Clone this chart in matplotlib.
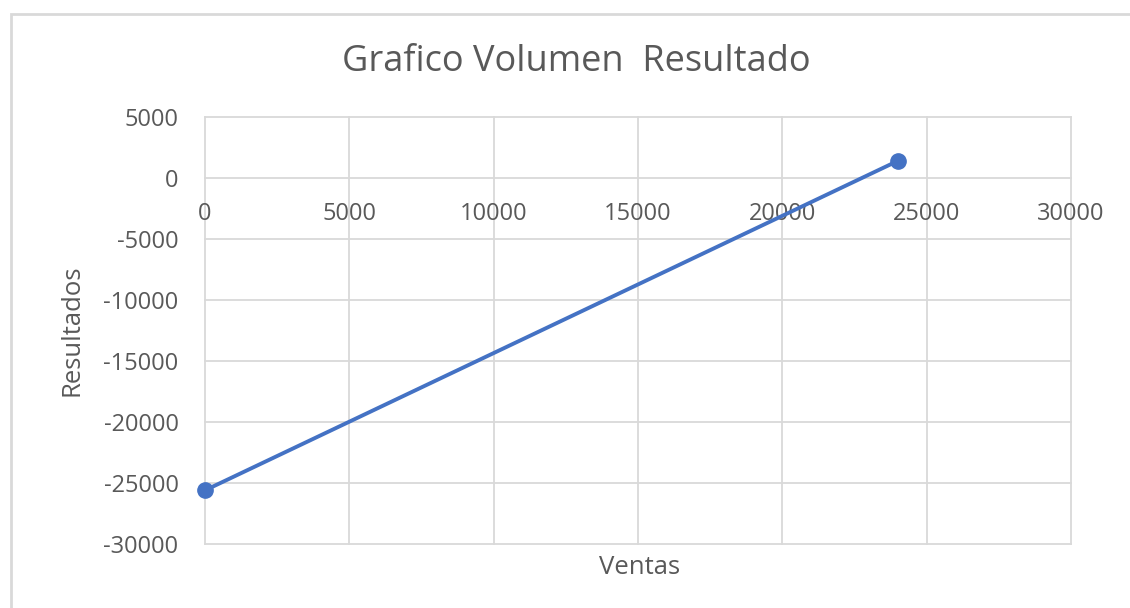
import matplotlib as mpl
import matplotlib.pyplot as plt
from matplotlib.patches import Rectangle

mpl.use("agg")

# data
ventas = [0, 24000]
resultados = [-25600, 1400]
x_ticks = [0, 5000, 10000, 15000, 20000, 25000, 30000]
y_ticks = [5000, 0, -5000, -10000, -15000, -20000, -25000, -30000]

title = "Grafico Volumen  Resultado"
x_label = "Ventas"
y_label = "Resultados"

text_color = "#595959"
grid_color = "#d9d9d9"
line_color = "#4472C4"

plt.rcParams["font.family"] = ["Open Sans", "DejaVu Sans"]

fig = plt.figure(figsize=(11.3, 6.08), dpi=100)
W, H = 1130, 608
ax = fig.add_axes([205 / W, 1 - 544 / H, (1071 - 205) / W, (544 - 117) / H])

# chart frame (only left and top edges are visible in the screenshot)
fig.patches.append(
    Rectangle((11 / W, -0.2), 1.5, 1.2 - 14 / H, transform=fig.transFigure,
              fill=False, edgecolor="#d9d9d9", linewidth=2.0)
)

ax.plot(ventas, resultados, color=line_color, linewidth=2.8,
        marker="o", markersize=11, zorder=3, clip_on=False)

ax.set_xlim(0, 30000)
ax.set_ylim(-30000, 5000)
ax.set_xticks(x_ticks)
ax.set_yticks(y_ticks)
ax.set_xticklabels([str(v) for v in x_ticks])
ax.set_yticklabels([str(v) for v in y_ticks])

for s in ax.spines.values():
    s.set_visible(False)
ax.spines["bottom"].set_position(("data", 0))

ax.tick_params(axis="both", length=0, labelsize=17, labelcolor=text_color)
ax.tick_params(axis="x", pad=17)
ax.tick_params(axis="y", pad=19)

ax.grid(True, color=grid_color, linewidth=1.3)
ax.set_axisbelow(True)
for gl in ax.get_xgridlines() + ax.get_ygridlines():
    gl.set_clip_on(False)

fig.text(576 / W, 1 - 62 / H, title, ha="center", va="center",
         fontsize=26, color=text_color)
fig.text(640 / W, 1 - 567 / H, x_label, ha="center", va="center",
         fontsize=18.5, color=text_color)
fig.text(72 / W, 1 - 330 / H, y_label, ha="center", va="center",
         rotation=90, fontsize=18.5, color=text_color)

fig.savefig("out.png", dpi=100, facecolor="white")
